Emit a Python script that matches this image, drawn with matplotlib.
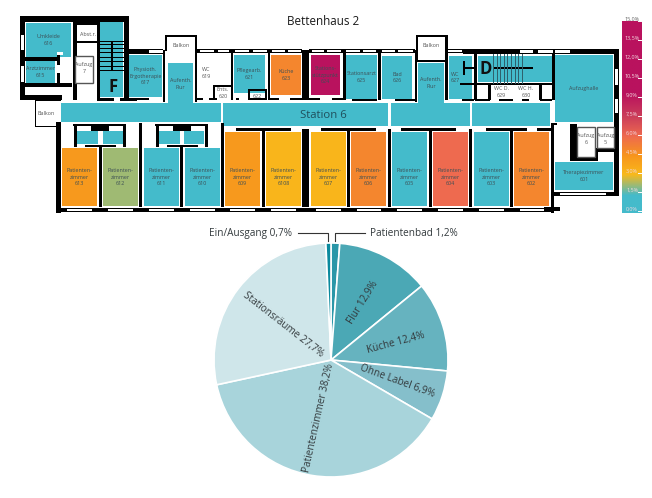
import matplotlib
matplotlib.use("Agg")
import matplotlib.pyplot as plt
from matplotlib.colors import LinearSegmentedColormap, Normalize
from matplotlib.patches import Rectangle
import numpy as np

plt.rcParams["font.family"] = ["Open Sans", "DejaVu Sans"]

# share of each room, percent
room_labels = ["Umkleide\n616", "Arztzimmer\n615", "", "Physioth.\nErgotherapie\n617", "Aufenth.\nFlur",
               "Pflegearb.\n621", "Küche\n623", "Stations-\nstützpunkt\n624", "Stationsarzt\n625", "Bad\n626",
               "Aufenth.\nFlur", "WC\n627", "", "Aufzughalle",
               "Patienten-\nzimmer\n613", "Patienten-\nzimmer\n612", "Patienten-\nzimmer\n611", "Patienten-\nzimmer\n610",
               "Patienten-\nzimmer\n609", "Patienten-\nzimmer\n6108", "Patienten-\nzimmer\n607", "Patienten-\nzimmer\n606",
               "Patienten-\nzimmer\n605", "Patienten-\nzimmer\n604", "Patienten-\nzimmer\n603", "Patienten-\nzimmer\n602",
               "Therapiezimmer\n601"]
room_values = [0.5, 0.5, 0.5, 0.5, 0.5,
               0.5, 5.0, 12.5, 0.5, 0.5,
               0.5, 0.5, 0.5, 0.5,
               4.3, 2.2, 0.5, 0.5,
               4.3, 3.2, 3.2, 5.0,
               0.5, 6.0, 0.5, 5.0,
               0.5]
other_values = [0.5] * 8  # corridor parts and the small bathrooms

scale_ticks = [15.0, 13.5, 12.0, 10.5, 9.0, 7.5, 6.0, 4.5, 3.0, 1.5, 0.0]

pie_labels = ["Patientenbad", "Flur", "Küche", "Ohne Label", "Patientenzimmer", "Stationsräume", "Ein/Ausgang"]
pie_values = [1.2, 12.9, 12.4, 6.9, 38.2, 27.7, 0.7]
pie_colors = ["#2a97a8", "#4ba8b5", "#66b3bf", "#85bfcb", "#a8d4db", "#cfe6ea", "#0a8a9e"]

heat = LinearSegmentedColormap.from_list("heat", [
    (0.0, "#44bbcb"), (0.09, "#44bbcb"), (0.2, "#f9b91b"), (0.3, "#f7941d"),
    (0.4, "#ee6a4f"), (0.5, "#cc3f5a"), (0.62, "#b9125e"), (1.0, "#b9125e")])
norm = Normalize(0, 15)

fig = plt.figure(figsize=(6.52, 4.98), dpi=100)
ax = fig.add_axes([0, 0, 1, 1], zorder=2)
ax.set_xlim(0, 652)
ax.set_ylim(498, 0)
ax.axis("off")
ax.patch.set_alpha(0)

# x, y, w, h in image pixels
room_boxes = [(26, 23, 45, 34), (26, 61, 29, 22), (100, 22, 23, 75), (129, 55, 33, 42), (168, 63, 25, 42),
              (234, 55, 31, 38), (271, 55, 30, 40), (311, 55, 29, 40), (346, 55, 31, 44), (382, 56, 30, 43),
              (418, 63, 26, 40), (449, 56, 23, 43), (478, 56, 74, 26), (555, 55, 58, 67),
              (62, 148, 35, 58), (103, 148, 35, 58), (144, 148, 35, 58), (185, 148, 35, 58),
              (225, 132, 35, 74), (266, 132, 35, 74), (311, 132, 35, 74), (351, 132, 35, 74),
              (392, 132, 35, 74), (433, 132, 35, 74), (474, 132, 35, 74), (514, 132, 35, 74),
              (555, 162, 58, 28)]
other_boxes = [(61, 103, 160, 19), (223, 103, 165, 23), (391, 103, 79, 23), (472, 103, 78, 23),
               (77, 131, 21, 13), (103, 131, 20, 13), (159, 131, 21, 13), (184, 131, 20, 13)]

for box, val, lab in zip(room_boxes, room_values, room_labels):
    x, y, w, h = box
    ax.add_patch(Rectangle((x, y), w, h, fc=heat(norm(val)), ec="none", zorder=1))
    if lab:
        lx = 455 if lab.startswith("WC") else x + w / 2
        ly = 177 if y + h == 206 else y + h / 2
        ax.text(lx, ly, lab, fontsize=3.9, color="#3d4f55", ha="center", va="center",
                linespacing=1.45, zorder=5)
for box, val in zip(other_boxes, other_values):
    ax.add_patch(Rectangle(box[:2], box[2], box[3], fc=heat(norm(val)), ec="none", zorder=1))

walls = [
    (20, 16, 109, 6), (20, 16, 5, 84), (25, 57, 33, 4), (57, 55, 3, 10), (57, 73, 3, 11), (25, 83, 47, 4),
    (20, 95, 42, 5), (73, 16, 4, 84), (77, 22, 20, 3), (77, 41, 20, 2), (97, 16, 3, 84), (97, 98, 17, 3),
    (120, 98, 17, 3), (124, 16, 5, 84), (129, 49, 34, 5), (129, 98, 20, 2), (163, 50, 2, 52), (165, 35, 31, 2),
    (165, 35, 1.5, 16), (195, 35, 2, 67), (197, 49, 105, 4), (231, 50, 2, 50), (268, 50, 2, 50), (302, 50, 7, 50),
    (309, 49, 106, 4), (343, 50, 2.5, 50), (378, 50, 3, 50), (415, 50, 2, 52), (416, 35, 31, 2), (416, 35, 1.5, 27),
    (416, 60, 31, 2), (445, 35, 3, 65), (448, 49, 15, 4), (463, 49, 156, 5), (463, 61, 2, 14), (463, 67, 12, 2),
    (474, 50, 3, 50), (494, 67, 39, 2), (460, 83, 92, 2), (488, 85, 3, 15), (539, 85, 3, 15), (552, 50, 3, 50),
    (475, 99, 15, 2), (499, 99, 14, 2), (522, 99, 7, 2), (540, 99, 12, 2), (614, 49, 5, 147), (553, 192, 66, 4),
    (213, 85, 2, 15), (213, 85, 20, 2), (248, 89, 17, 2), (248, 89, 2, 11), (265, 89, 2, 11),
    (195, 98, 8, 2), (209, 98, 8, 2), (236, 98, 3, 2), (250, 98, 16, 2), (270, 98, 9, 2), (290, 98, 30, 2),
    (332, 98, 14, 2), (352, 99, 25, 2), (395, 99, 20, 2), (462, 99, 12, 2),
    (56, 122, 5, 91), (56, 208, 495, 4), (99, 145, 3, 62), (139, 123, 3, 84), (180, 145, 3, 62), (221, 123, 3, 84),
    (262, 130, 3, 77), (302, 129, 7, 78), (347, 130, 3, 77), (388, 129, 3, 78), (429, 130, 3, 77), (469, 129, 3, 78),
    (510, 130, 3, 77), (551, 123, 3, 90), (236, 128, 55, 3), (321, 128, 55, 3), (401, 128, 55, 3), (486, 128, 41, 3),
    (537, 128, 14, 3), (544, 207, 16, 4), (551, 123, 6, 2), (570, 124, 7, 37), (570, 157, 28, 4), (595, 148, 3, 12),
    (597, 149, 20, 3),
    (35, 100, 1, 26), (35, 126, 22, 1), (35, 100, 26, 1),
]
for dx in (0, 82):
    walls += [(73 + dx, 124, 53, 2), (91 + dx, 125, 18, 6), (74 + dx, 125, 2.5, 22), (123 + dx, 125, 2.5, 22),
              (85 + dx, 145, 31, 2)]
# stairs F
for y in (40.5, 44, 48, 52, 56.5, 61, 66, 70):
    walls.append((99, y, 25, 1.2))
walls.append((111, 41, 1.5, 30))
for x, y, w, h in walls:
    ax.add_patch(Rectangle((x, y), w, h, fc="black", ec="none", zorder=3))

# windows and the notch beside room 616
windows = [(57, 52, 6, 3), (21, 35, 3, 15), (21, 66, 3, 16), (149, 50, 14, 2.5), (200, 50, 14, 2), (218, 50, 11, 2),
           (235, 50, 14, 2), (253, 50, 14, 2), (272, 50, 13, 2), (288, 50, 13, 2), (312, 50, 12, 2), (327, 50, 14, 2),
           (346, 50, 14, 2), (363, 50, 13, 2), (382, 50, 13, 2), (398, 50, 15, 2), (448, 50, 14, 2), (520, 50, 13, 3),
           (538, 50, 15, 3), (555, 50, 15, 3), (615, 69, 3, 16), (615, 99, 3, 14), (560, 193, 46, 2),
           (67, 209, 25, 2), (108, 209, 25, 2), (149, 209, 25, 2), (190, 209, 25, 2), (230, 209, 25, 2), (271, 209, 25, 2),
           (316, 209, 25, 2), (357, 209, 24, 2), (397, 209, 25, 2), (438, 209, 25, 2), (479, 209, 25, 2), (520, 209, 24, 2)]
for x, y, w, h in windows:
    ax.add_patch(Rectangle((x, y), w, h, fc="white", ec="none", zorder=4))

# stairs D, lift boxes
for x in np.arange(493, 525, 3.6):
    ax.plot([x, x], [54, 83], color="#2f5f6b", lw=0.7, zorder=3)
for x, y, w, h, lab in [(75, 56, 18, 27, "Aufzug\n7"), (577, 127, 18, 30, "Aufzug\n6"), (597, 127, 17, 21, "Aufzug\n5")]:
    ax.add_patch(Rectangle((x, y), w, h, fc="white", ec="#555555", lw=1, zorder=3))
    ax.text(x + w / 2, y + 12, lab, fontsize=3.9, color="#555555", ha="center", va="center", linespacing=1.45, zorder=5)

small_texts = [(88, 34, "Abst.r."), (181, 45, "Balkon"), (431, 45, "Balkon"), (46, 113, "Balkon"), (206, 73, "WC\n619"),
               (223, 93, "Ents.\n620"), (257, 96, "622"), (501, 92, "WC D.\n629"), (526, 92, "WC H.\n630")]
for x, y, s in small_texts:
    ax.text(x, y, s, fontsize=3.9, color="#555555", ha="center", va="center", linespacing=1.45, zorder=5)

ax.text(113, 87, "F", fontsize=12, fontweight="bold", color="#111111", ha="center", va="center", zorder=6)
ax.text(486, 69, "D", fontsize=12, fontweight="bold", color="#111111", ha="center", va="center", zorder=6)
ax.text(323, 21, "Bettenhaus 2", fontsize=8.4, color="#1a1a1a", ha="center", va="center")
ax.text(323, 115, "Station 6", fontsize=8.2, color="#1f4f5c", ha="center", va="center", zorder=6)

# colour scale
scale = np.linspace(15, 0, 256).reshape(-1, 1)
ax.imshow(scale, cmap=heat, norm=norm, extent=(622, 642, 213, 21), aspect="auto", zorder=1, interpolation="bilinear")
ax.set_xlim(0, 652)
ax.set_ylim(498, 0)
for i, t in enumerate(scale_ticks):
    y = 19 + 19 * i
    col = "#666666" if i == 0 else "#f3d9e0"
    ax.text(632, y, f"{t:.1f}%".replace(".", ","), fontsize=3.9, color=col, ha="center", va="center", zorder=5)
    ax.plot([638, 642], [y + 2, y + 2], color="white", lw=0.7, zorder=5)

# pie
cx, cy, r = 331, 360, 117
ax_pie = fig.add_axes([(cx - r) / 652, 1 - (cy + r) / 498, 2 * r / 652, 2 * r / 498], zorder=1)
ax_pie.pie(pie_values, colors=pie_colors, startangle=90, counterclock=False, radius=1,
           wedgeprops={"edgecolor": "white", "linewidth": 1.2})
ax_pie.set_xlim(-1, 1)
ax_pie.set_ylim(-1, 1)

pie_text = [(363, 302, 58, 1), (396, 343, 15, 2), (397, 381, -20, 3), (319, 418, 77.5, 4), (283, 325, -38, 5)]
for x, y, rot, i in pie_text:
    s = f"{pie_labels[i]} {pie_values[i]:.1f}%".replace(".", ",")
    ax.text(x, y, s, fontsize=7.2, color="#333a3d", rotation=rot, ha="center", va="center",
            rotation_mode="anchor", zorder=6)
ax.text(209, 233, f"{pie_labels[6]} {pie_values[6]:.1f}%".replace(".", ","), fontsize=7.2, color="#333a3d", ha="left", va="center")
ax.text(370, 233, f"{pie_labels[0]} {pie_values[0]:.1f}%".replace(".", ","), fontsize=7.2, color="#333a3d", ha="left", va="center")
ax.plot([298, 328, 328], [233, 233, 241], color="#333333", lw=0.8, zorder=6)
ax.plot([365, 335, 335], [233, 233, 241], color="#333333", lw=0.8, zorder=6)

fig.savefig("out.png", dpi=100)
